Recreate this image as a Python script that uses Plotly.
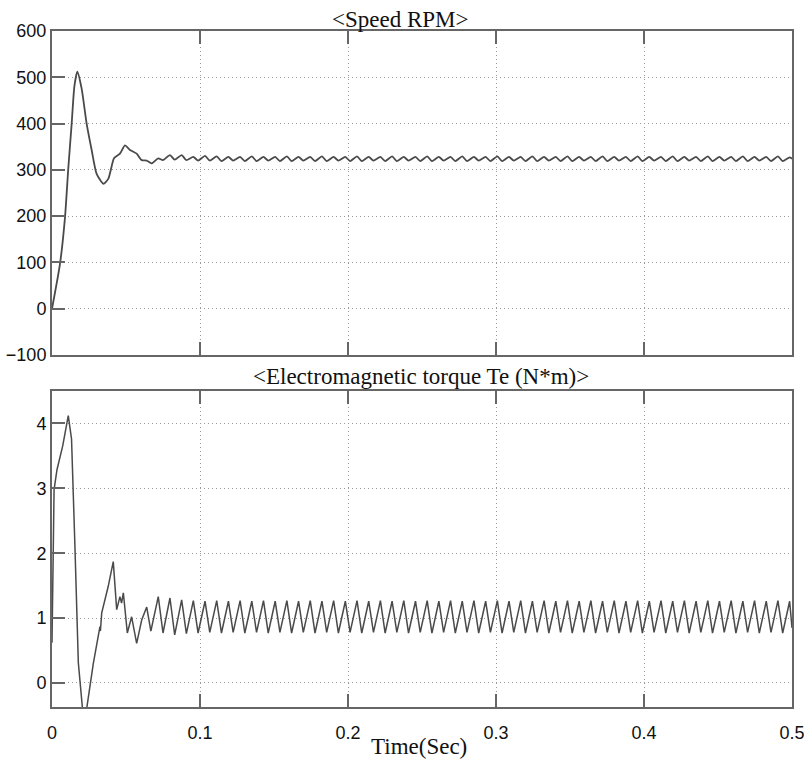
import plotly.graph_objects as go

# ---------------- data ----------------
x_ticks = [0, 0.1, 0.2, 0.3, 0.4, 0.5]
x_tick_labels = ["0", "0.1", "0.2", "0.3", "0.4", "0.5"]
speed_ticks = [-100, 0, 100, 200, 300, 400, 500, 600]
torque_ticks = [0, 1, 2, 3, 4]

# speed start-up transient (s, rpm)
speed_t0 = [0.0, 0.0054, 0.0088, 0.0110, 0.0133, 0.0151, 0.0171, 0.0200, 0.0234,
            0.0268, 0.0301, 0.0347, 0.0381, 0.0419, 0.0459, 0.0493, 0.0527, 0.0572,
            0.0606, 0.0640, 0.0673, 0.0718]
speed_v0 = [0, 97, 198, 303, 400, 480, 512, 476, 400, 343, 292, 270, 281, 325, 335,
            353, 343, 335, 321, 320, 314, 325]

# torque start-up transient (s, N*m)
torque_t0 = [0.0, 0.0003, 0.0006, 0.0009, 0.0014, 0.0034, 0.0072, 0.0110, 0.0132,
             0.0155, 0.0178, 0.0207, 0.0234, 0.0279, 0.0324, 0.0327, 0.0336, 0.0380,
             0.0414, 0.0437, 0.0459, 0.0470, 0.0482, 0.0509, 0.0538, 0.0572, 0.0606,
             0.0640, 0.0668]
torque_v0 = [0.62, 1.17, 0.90, 1.80, 2.98, 3.29, 3.65, 4.12, 3.76, 2.10, 0.31, -0.42,
             -0.40, 0.30, 0.87, 0.80, 1.08, 1.49, 1.87, 1.13, 1.33, 1.23, 1.39, 0.77,
             1.02, 0.61, 0.97, 1.17, 0.80]

# steady-state ripple vertices (times of peaks / troughs)
ripple_peak_t = [0.0718, 0.0797, 0.0876, 0.0955, 0.1034, 0.1113, 0.1192, 0.1271, 0.1350,
                 0.1429, 0.1508, 0.1587, 0.1666, 0.1745, 0.1824, 0.1903, 0.1982, 0.2061,
                 0.2140, 0.2219, 0.2298, 0.2377, 0.2456, 0.2535, 0.2614, 0.2693, 0.2772,
                 0.2851, 0.2930, 0.3009, 0.3088, 0.3167, 0.3246, 0.3325, 0.3404, 0.3483,
                 0.3562, 0.3641, 0.3720, 0.3799, 0.3878, 0.3957, 0.4036, 0.4115, 0.4194,
                 0.4273, 0.4352, 0.4431, 0.4510, 0.4589, 0.4668, 0.4747, 0.4826, 0.4905,
                 0.4984]
ripple_trough_t = [0.0750, 0.0829, 0.0908, 0.0987, 0.1066, 0.1145, 0.1224, 0.1303, 0.1382,
                   0.1461, 0.1540, 0.1619, 0.1698, 0.1777, 0.1856, 0.1935, 0.2014, 0.2093,
                   0.2172, 0.2251, 0.2330, 0.2409, 0.2488, 0.2567, 0.2646, 0.2725, 0.2804,
                   0.2883, 0.2962, 0.3041, 0.3120, 0.3199, 0.3278, 0.3357, 0.3436, 0.3515,
                   0.3594, 0.3673, 0.3752, 0.3831, 0.3910, 0.3989, 0.4068, 0.4147, 0.4226,
                   0.4305, 0.4384, 0.4463, 0.4542, 0.4621, 0.4700, 0.4779, 0.4858, 0.4937,
                   0.5000]

torque_peak_v = [1.33, 1.31, 1.28, 1.27, 1.26, 1.27, 1.26, 1.27, 1.26, 1.27, 1.26, 1.27,
                 1.26, 1.27, 1.26, 1.27, 1.26, 1.27, 1.26, 1.27, 1.26, 1.27, 1.26, 1.27,
                 1.26, 1.27, 1.26, 1.27, 1.26, 1.27, 1.26, 1.27, 1.26, 1.27, 1.26, 1.27,
                 1.26, 1.27, 1.26, 1.27, 1.26, 1.27, 1.26, 1.27, 1.26, 1.27, 1.26, 1.27,
                 1.26, 1.27, 1.26, 1.27, 1.26, 1.27, 1.26]
torque_trough_v = [0.77, 0.74, 0.76, 0.77, 0.78, 0.77, 0.78, 0.77, 0.78, 0.77, 0.78, 0.77,
                   0.78, 0.77, 0.78, 0.77, 0.78, 0.77, 0.78, 0.77, 0.78, 0.77, 0.78, 0.77,
                   0.78, 0.77, 0.78, 0.77, 0.78, 0.77, 0.78, 0.77, 0.78, 0.77, 0.78, 0.77,
                   0.78, 0.77, 0.78, 0.77, 0.78, 0.77, 0.78, 0.77, 0.78, 0.77, 0.78, 0.77,
                   0.78, 0.77, 0.78, 0.77, 0.78, 0.77, 0.85]

speed_peak_v = [332, 332, 328, 330, 329, 328, 328, 329, 328, 328, 329, 328, 328, 329,
                328, 328, 329, 328, 328, 329, 328, 328, 329, 328, 328, 329, 328, 328,
                329, 328, 328, 329, 328, 328, 329, 328, 328, 329, 328, 328, 329, 328,
                328, 329, 328, 328, 329, 328, 328, 329, 328, 328, 329, 327]
speed_trough_v = [321, 322, 321, 320, 320, 319, 320, 319, 319, 320, 319, 319, 320, 319,
                  319, 320, 319, 319, 320, 319, 319, 320, 319, 319, 320, 319, 319, 320,
                  319, 319, 320, 319, 319, 320, 319, 319, 320, 319, 319, 320, 319, 319,
                  320, 319, 319, 320, 319, 319, 320, 319, 319, 320, 319, 319, 324]

# ---------------- assemble series ----------------
speed_t = list(speed_t0)
speed_v = list(speed_v0)
for k in range(len(ripple_trough_t)):
    speed_t.append(ripple_trough_t[k])
    speed_v.append(speed_trough_v[k])
    if k + 1 < len(ripple_peak_t):
        speed_t.append(ripple_peak_t[k + 1])
        speed_v.append(speed_peak_v[k])

torque_t = list(torque_t0)
torque_v = list(torque_v0)
for k in range(len(ripple_peak_t)):
    torque_t.append(ripple_peak_t[k])
    torque_v.append(torque_peak_v[k])
    torque_t.append(ripple_trough_t[k])
    torque_v.append(torque_trough_v[k])

# ---------------- figure ----------------
LINE = "#4a4a4a"
AX = "#666666"
GRID = "#9a9a9a"
tickfont = dict(family="Liberation Sans, Arial, sans-serif", size=18, color="#111111")
serif = dict(family="Liberation Serif, Times New Roman, serif", size=23, color="#111111")

fig = go.Figure()
fig.add_trace(go.Scatter(x=speed_t, y=speed_v, mode="lines", xaxis="x", yaxis="y",
                         line=dict(color=LINE, width=1.8, shape="spline", smoothing=0.6),
                         hoverinfo="skip"))
fig.add_trace(go.Scatter(x=torque_t, y=torque_v, mode="lines", xaxis="x2", yaxis="y2",
                         line=dict(color=LINE, width=1.5), hoverinfo="skip"))

common_x = dict(range=[0, 0.5], tickvals=x_ticks, ticktext=x_tick_labels,
                showline=True, linecolor=AX, linewidth=2, mirror="ticks",
                ticks="inside", ticklen=13, tickwidth=2, tickcolor=AX,
                showgrid=True, gridcolor=GRID, griddash="1px,3px", gridwidth=1.2,
                zeroline=False, tickfont=tickfont, fixedrange=True, automargin=False,
                ticklabelstandoff=8, ticklabeloverflow="allow")
common_y = dict(showline=True, linecolor=AX, linewidth=2, mirror=True,
                ticks="inside", ticklen=13, tickwidth=2, tickcolor=AX,
                showgrid=True, gridcolor=GRID, griddash="1px,3px", gridwidth=1.2,
                zeroline=False, tickfont=tickfont, fixedrange=True, automargin=False,
                ticklabeloverflow="allow")

fig.update_layout(
    width=804, height=764,
    margin=dict(l=52, r=12, t=31, b=57),
    paper_bgcolor="white", plot_bgcolor="white",
    showlegend=False,
    xaxis=dict(common_x, domain=[0, 1], anchor="y", showticklabels=False),
    yaxis=dict(common_y, domain=[0.5207, 1], anchor="x", range=[-100, 600],
               tickvals=speed_ticks),
    xaxis2=dict(common_x, domain=[0, 1], anchor="y2", showticklabels=True),
    yaxis2=dict(common_y, domain=[0, 0.4675], anchor="x2", range=[-0.37, 4.5],
                tickvals=torque_ticks),
    annotations=[
        dict(text="&lt;Speed RPM&gt;", xref="paper", yref="paper", x=0.470, y=1.0163,
             xanchor="center", yanchor="middle", showarrow=False, font=serif),
        dict(text="&lt;Electromagnetic torque Te (N*m)&gt;", xref="paper", yref="paper",
             x=0.4986, y=0.4896, xanchor="center", yanchor="middle", showarrow=False,
             font=serif),
        dict(text="Time(Sec)", xref="paper", yref="paper", x=0.496, y=-0.0587,
             xanchor="center", yanchor="middle", showarrow=False, font=serif),
    ],
)

# remove the default page margin so the 804x764 figure fills the window exactly
page_fix = "document.body.style.margin='0';document.body.style.overflow='hidden';"
fig.write_html("out.html", post_script=page_fix, config={"displayModeBar": False})
